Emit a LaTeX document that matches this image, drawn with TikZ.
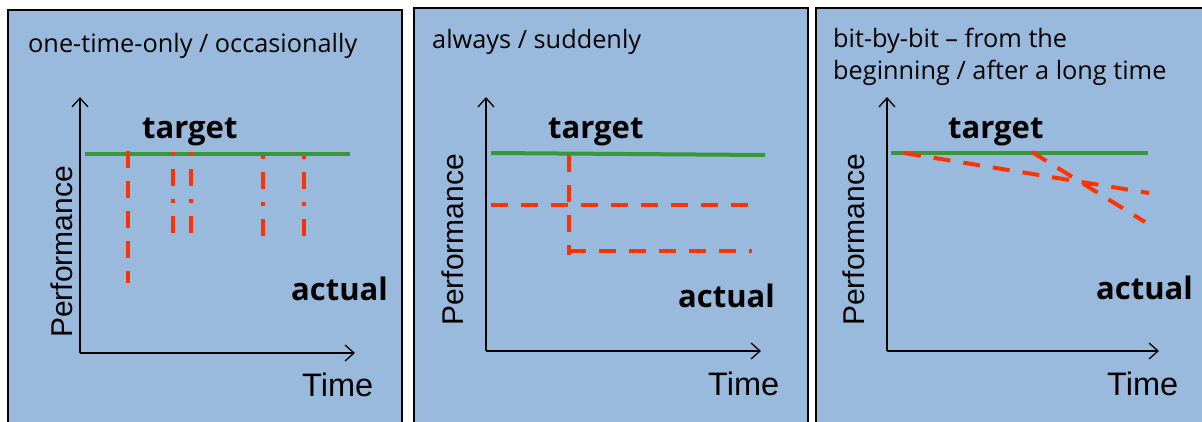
\documentclass[tikz,border=0pt]{standalone}
\usepackage{fontspec}
\setmainfont{Open Sans}
\newfontfamily\axisfont{Liberation Sans}
\usetikzlibrary{arrows.meta}
\definecolor{PanelBlue}{RGB}{153,186,221}
\definecolor{TargetGreen}{RGB}{58,150,58}
\definecolor{ActualRed}{RGB}{255,51,0}

\begin{document}
\begin{tikzpicture}[x=1pt,y=-1pt, >={Straight Barb[length=9pt,width=16pt]},
	   panel/.style = {draw=black, line width=1.5pt, fill=PanelBlue},
	   axis/.style = {->, line width=1.3pt},
	   goal/.style = {TargetGreen, line width=4pt},
	   drop/.style = {ActualRed, line width=4pt, dash pattern=on 17pt off 13pt},
	   dropdot/.style = {ActualRed, line width=4pt, dash pattern=on 4pt off 13pt on 17pt off 13pt},
	   heading/.style = {anchor=base west, inner sep=0pt, align=left,
	                     font=\fontsize{25.3}{32}\selectfont},
	   word/.style = {anchor=base west, inner sep=0pt, font=\bfseries\fontsize{31}{36}\selectfont},
	   ylabel/.style = {rotate=90, inner sep=0pt, font=\axisfont\fontsize{30}{36}\selectfont},
	   xlabel/.style = {anchor=base west, inner sep=0pt, font=\axisfont\fontsize{32.5}{36}\selectfont}]
	\clip (0,0) rectangle (1202,421);
	\fill[white] (0,0) rectangle (1202,421);

	%% Panels
	\path[panel] (8,10) rectangle (402,440);
	\path[panel] (414,8) rectangle (808,440);
	\path[panel] (816,8) rectangle (1215,440);

	%% One-time-only / occasionally
	\node [heading] (title1) at (28,52) {one-time-only / occasionally};
	\coordinate (orig1) at (80,353);
	\draw[axis] (orig1) -- (80,97);
	\draw[axis] (orig1) -- (355,353);
	\node [ylabel] (perf1) at (62,252) {Performance};
	\node [xlabel] (time1) at (302,396) {Time};
	\node [word] (target1) at (142,138) {target};
	\node [word] (actual1) at (291,300) {actual};
	\draw[goal] (85,154) -- (350,154);
	\draw[drop] (128,151) -- (128,283);
	\draw[dropdot] (173,152) -- (173,233);
	\draw[dropdot] (191,152) -- (191,233);
	\draw[dropdot] (263,155) -- (263,236);
	\draw[dropdot] (304,155) -- (304,236);

	%% Always / suddenly
	\node [heading] (title2) at (432,48) {always / suddenly};
	\coordinate (orig2) at (486,351);
	\draw[axis] (orig2) -- (486,97);
	\draw[axis] (orig2) -- (761,351);
	\node [ylabel] (perf2) at (453,240) {Performance};
	\node [xlabel] (time2) at (708,395) {Time};
	\node [word] (target2) at (548,138) {target};
	\node [word] (actual2) at (678,307) {actual};
	\draw[goal] (491,153) -- (765,155);
	\draw[drop] (569,155) -- (569,255);
	\draw[drop] (491,205) -- (749,205);
	\draw[drop] (569,251) -- (752,251);

	%% Bit-by-bit (base is the last line)
	\node [heading] (title3) at (833,79) {bit-by-bit -- from the\\beginning / after a long time};
	\coordinate (orig3) at (887,351);
	\draw[axis] (orig3) -- (887,97);
	\draw[axis] (orig3) -- (1159,351);
	\node [ylabel] (perf3) at (854,240) {Performance};
	\node [xlabel] (time3) at (1107,395) {Time};
	\node [word] (target3) at (948,138) {target};
	\node [word] (actual3) at (1096,299) {actual};
	\draw[goal] (891,153) -- (1148,153);
	\draw[drop] (904,153) -- (1149,193);
	\draw[drop] (1032,152) -- (1145,222);
\end{tikzpicture}
\end{document}
